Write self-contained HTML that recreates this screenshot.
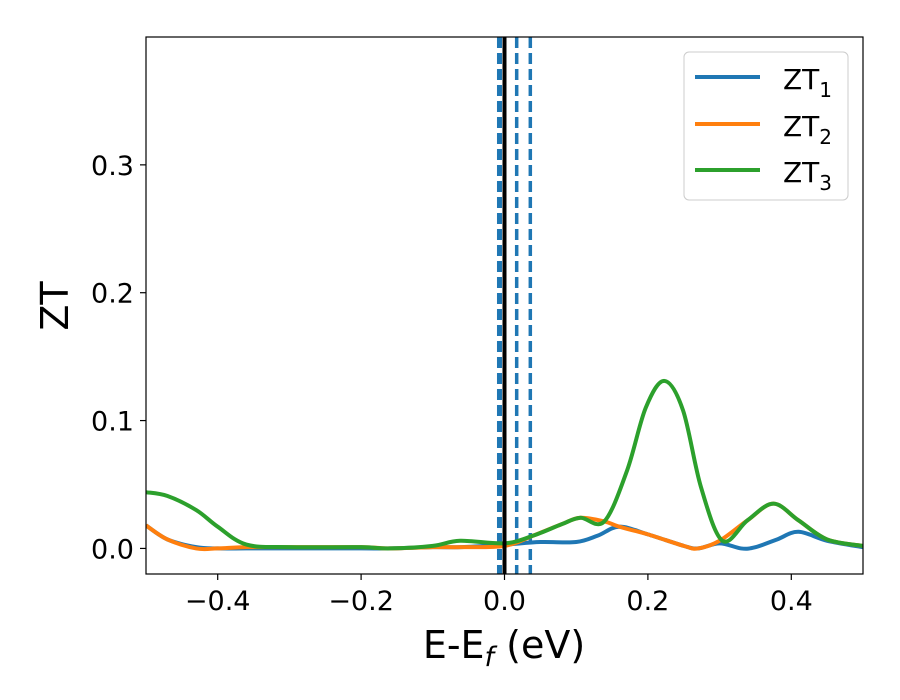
<!DOCTYPE html>
<html><head><meta charset="utf-8"><style>
body{margin:0;background:#fff;}
svg{display:block;font-family:"DejaVu Sans","Liberation Sans",sans-serif;}
</style></head><body>
<svg id="chart" width="900" height="700">
<rect x="0" y="0" width="900" height="700" fill="#fff"/>
<g id="plot"></g>
<rect x="146" y="37" width="717" height="537" fill="none" stroke="#000" stroke-width="1.2"/>
<g id="ticks"></g>
<text x="504" y="658" font-size="38" text-anchor="middle">E-E<tspan font-size="27" font-style="italic" dy="8">f</tspan><tspan dy="-8"> (eV)</tspan></text>
<text transform="translate(68,306) rotate(-90)" font-size="38" text-anchor="middle">ZT</text>
<g>
<rect x="684" y="52" width="164" height="148" rx="5" fill="#fff" stroke="#ccc"/>
<line x1="695" y1="77" x2="760" y2="77" stroke="#1f77b4" stroke-width="4"/>
<text x="783" y="89" font-size="28">ZT<tspan font-size="20" dy="8">1</tspan></text>
<line x1="695" y1="124" x2="760" y2="124" stroke="#ff7f0e" stroke-width="4"/>
<text x="783" y="136" font-size="28">ZT<tspan font-size="20" dy="8">2</tspan></text>
<line x1="695" y1="170" x2="760" y2="170" stroke="#2ca02c" stroke-width="4"/>
<text x="783" y="182" font-size="28">ZT<tspan font-size="20" dy="8">3</tspan></text>
</g>
</svg>
<script>
const xTicks=[-0.4,-0.2,0.0,0.2,0.4];
const xTickLabels=["\u22120.4","\u22120.2","0.0","0.2","0.4"];
const yTicks=[0.0,0.1,0.2,0.3];
const yTickLabels=["0.0","0.1","0.2","0.3"];
const vDashed=[-0.007,0.017,0.036];
const vSolid=[0.0];
const zt1X=[-0.5,-0.47,-0.43,-0.4,-0.36,-0.3,-0.2,-0.16,-0.1,-0.06,0,0.05,0.1,0.13,0.16,0.2,0.25,0.27,0.3,0.33,0.35,0.38,0.41,0.45,0.5];
const zt1Y=[0.018,0.007,0.001,0.0,0.0,0.0,0.0,0.0,0.001,0.001,0.003,0.005,0.005,0.01,0.017,0.011,0.002,0.0,0.004,0.0,0.001,0.007,0.013,0.006,0.001];
const zt2X=[-0.5,-0.47,-0.43,-0.4,-0.36,-0.3,-0.2,-0.16,-0.1,-0.06,0,0.04,0.08,0.106,0.14,0.16,0.2,0.25,0.27,0.3,0.339,0.375,0.41,0.45,0.5];
const zt2Y=[0.018,0.007,0.0,0.0,0.001,0.001,0.001,0.0,0.001,0.001,0.002,0.01,0.019,0.024,0.021,0.017,0.011,0.002,0.0,0.006,0.022,0.035,0.022,0.007,0.002];
const zt3X=[-0.5,-0.47,-0.43,-0.4,-0.36,-0.3,-0.2,-0.16,-0.1,-0.062,0,0.04,0.08,0.106,0.139,0.171,0.197,0.223,0.249,0.274,0.304,0.339,0.375,0.41,0.45,0.5];
const zt3Y=[0.044,0.041,0.03,0.017,0.003,0.001,0.001,0.0,0.002,0.006,0.004,0.01,0.019,0.024,0.021,0.061,0.11,0.131,0.108,0.048,0.006,0.022,0.035,0.022,0.007,0.002];

const NS="http://www.w3.org/2000/svg";
const L=146,R=863,T=37,B=574,xmin=-0.5,xmax=0.5,ymin=-0.02,ymax=0.4;
const sx=v=>L+(v-xmin)/(xmax-xmin)*(R-L);
const sy=v=>B-(v-ymin)/(ymax-ymin)*(B-T);
const plot=document.getElementById('plot'),ticks=document.getElementById('ticks');
function mk(tag,attrs,parent){const e=document.createElementNS(NS,tag);for(const k in attrs)e.setAttribute(k,attrs[k]);parent.appendChild(e);return e;}
const clip=mk('clipPath',{id:'cp'},plot);mk('rect',{x:L,y:T,width:R-L,height:B-T},clip);
function pathFor(xs,ys){
 const p=xs.map((x,i)=>[sx(x),sy(ys[i])]);let d=`M${p[0][0]},${p[0][1]}`;
 for(let i=0;i<p.length-1;i++){const p0=p[Math.max(i-1,0)],p1=p[i],p2=p[i+1],p3=p[Math.min(i+2,p.length-1)];
  const c1=[p1[0]+(p2[0]-p0[0])/6,p1[1]+(p2[1]-p0[1])/6],c2=[p2[0]-(p3[0]-p1[0])/6,p2[1]-(p3[1]-p1[1])/6];
  d+=` C${c1[0]},${c1[1]} ${c2[0]},${c2[1]} ${p2[0]},${p2[1]}`;}
 return d;}
const series=[[zt1X,zt1Y,'#1f77b4','series-zt1'],[zt2X,zt2Y,'#ff7f0e','series-zt2'],[zt3X,zt3Y,'#2ca02c','series-zt3']];
const g=mk('g',{'clip-path':'url(#cp)'},plot);
vDashed.forEach((v,i)=>{const l=mk('line',{x1:sx(v),x2:sx(v),y1:T,y2:B,stroke:'#1f77b4','stroke-width':i==0?5:3.5,'stroke-dasharray':'11,5'},g);

});
series.forEach(s=>{const p=mk('path',{d:pathFor(s[0],s[1]),fill:'none',stroke:s[2],'stroke-width':4,'stroke-linejoin':'round'},g);

});
vSolid.forEach(v=>{const l=mk('line',{x1:sx(v),x2:sx(v),y1:T,y2:B,stroke:'#000','stroke-width':4},g);

});
xTicks.forEach((v,i)=>{mk('line',{x1:sx(v),x2:sx(v),y1:B,y2:B+6,stroke:'#000','stroke-width':1.2},ticks);
const t=mk('text',{x:sx(v),y:B+36,'font-size':27,'text-anchor':'middle'},ticks);t.textContent=xTickLabels[i];

});
yTicks.forEach((v,i)=>{mk('line',{x1:L-6,x2:L,y1:sy(v),y2:sy(v),stroke:'#000','stroke-width':1.2},ticks);
const t=mk('text',{x:L-12,y:sy(v)+10,'font-size':27,'text-anchor':'end'},ticks);t.textContent=yTickLabels[i];

});
</script>
</body></html>
